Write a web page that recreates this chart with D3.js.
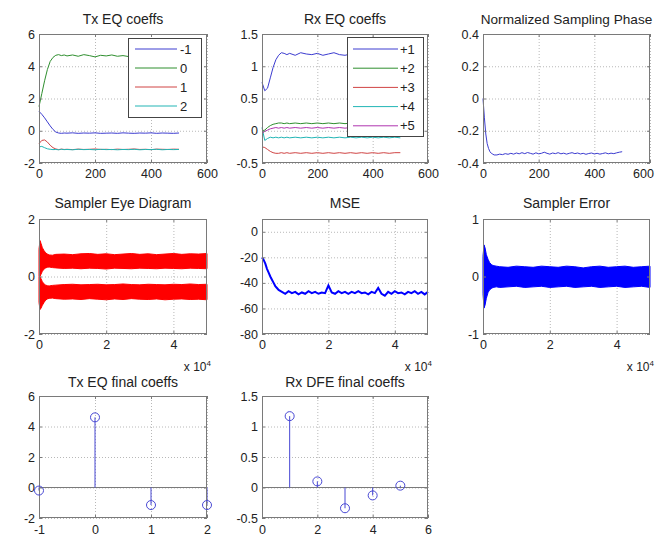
<!DOCTYPE html>
<html><head><meta charset="utf-8">
<script src="https://cdn.jsdelivr.net/npm/d3@7"></script>
<style>
body{margin:0;background:#fff;}
svg{display:block;font-family:"Liberation Sans",Arial,sans-serif;}
</style></head>
<body><svg id="c" width="655" height="537"></svg>
<script>
// ---------------- data ----------------
const txIter = [0,10,20,30,40,50,60,70,80,90,100,120,140,160,180,200,220,240,260,280,300,320,340,360,380,400,420,440,460,480,500];
const txM1 = [1.2,1.02,0.8,0.55,0.3,0.08,-0.08,-0.14,-0.16,-0.14,-0.15,-0.13,-0.16,-0.14,-0.15,-0.13,-0.16,-0.15,-0.14,-0.16,-0.13,-0.15,-0.16,-0.14,-0.15,-0.13,-0.16,-0.14,-0.15,-0.16,-0.14];
const tx0  = [1.5,2.3,3.1,3.8,4.3,4.55,4.68,4.72,4.66,4.7,4.64,4.7,4.62,4.72,4.66,4.58,4.68,4.64,4.7,4.62,4.66,4.6,4.66,4.62,4.67,4.6,4.64,4.62,4.66,4.6,4.62];
const tx1  = [-0.8,-0.6,-0.57,-0.7,-0.9,-1.05,-1.13,-1.17,-1.14,-1.16,-1.15,-1.17,-1.14,-1.16,-1.15,-1.13,-1.16,-1.15,-1.17,-1.14,-1.16,-1.15,-1.13,-1.16,-1.15,-1.17,-1.14,-1.15,-1.16,-1.14,-1.15];
const tx2  = [-1.0,-0.97,-1.05,-1.12,-1.15,-1.17,-1.16,-1.18,-1.15,-1.17,-1.16,-1.18,-1.15,-1.17,-1.16,-1.18,-1.15,-1.17,-1.16,-1.18,-1.16,-1.17,-1.15,-1.18,-1.16,-1.17,-1.15,-1.18,-1.16,-1.17,-1.16];
const txNames = ["-1","0","1","2"];

const rxIter = txIter;
const rx1 = [0.75,0.62,0.66,0.82,0.98,1.1,1.17,1.21,1.2,1.18,1.2,1.17,1.21,1.19,1.18,1.2,1.17,1.19,1.21,1.18,1.17,1.19,1.2,1.18,1.19,1.17,1.2,1.18,1.19,1.17,1.18];
const rx2 = [0.0,0.01,0.05,0.08,0.1,0.11,0.12,0.12,0.11,0.12,0.11,0.12,0.11,0.12,0.11,0.12,0.11,0.12,0.11,0.12,0.11,0.12,0.11,0.12,0.11,0.12,0.11,0.12,0.11,0.12,0.11];
const rx3 = [-0.25,-0.26,-0.29,-0.32,-0.34,-0.35,-0.35,-0.34,-0.35,-0.34,-0.35,-0.34,-0.35,-0.34,-0.35,-0.34,-0.35,-0.34,-0.35,-0.34,-0.35,-0.34,-0.35,-0.34,-0.35,-0.34,-0.35,-0.34,-0.35,-0.34,-0.34];
const rx4 = [0.05,-0.15,-0.12,-0.1,-0.11,-0.1,-0.11,-0.1,-0.11,-0.1,-0.11,-0.1,-0.11,-0.1,-0.11,-0.1,-0.11,-0.1,-0.11,-0.1,-0.11,-0.1,-0.11,-0.1,-0.11,-0.1,-0.11,-0.1,-0.11,-0.1,-0.11];
const rx5 = [-0.04,-0.01,0.01,0.03,0.04,0.05,0.04,0.05,0.04,0.05,0.04,0.05,0.04,0.05,0.04,0.05,0.04,0.05,0.04,0.05,0.04,0.05,0.04,0.05,0.04,0.05,0.04,0.05,0.04,0.05,0.04];
const rxNames = ["+1","+2","+3","+4","+5"];

const phaseIter = [0,5,10,15,20,25,30,35,40,50,60,70,80,90,100,110,120,130,140,150,160,170,180,190,200,210,220,230,240,250,260,270,280,290,300,310,320,330,340,350,360,370,380,390,400,410,420,430,440,450,460,470,480,490,500];
const phaseVal = [0,-0.12,-0.22,-0.28,-0.31,-0.33,-0.34,-0.345,-0.35,
  -0.35,-0.345,-0.348,-0.342,-0.346,-0.34,-0.345,-0.338,-0.343,-0.336,-0.342,-0.335,-0.34,-0.345,-0.337,-0.343,-0.34,-0.333,-0.34,-0.345,-0.338,-0.342,-0.336,-0.343,-0.339,-0.345,-0.34,-0.336,-0.342,-0.338,-0.344,-0.34,-0.346,-0.341,-0.338,-0.344,-0.34,-0.345,-0.341,-0.337,-0.343,-0.339,-0.342,-0.337,-0.333,-0.33];

const sampleIdx = [0,300,600,1000,1500,2000,2500,3000,4000,5000,7500,10000,12500,15000,17500,20000,22500,25000,27500,30000,32500,35000,37500,40000,42500,45000,47500,50000];
const eyeUpTop = [0.95,1.25,1.15,1.0,0.9,0.82,0.78,0.75,0.74,0.77,0.78,0.76,0.79,0.8,0.77,0.79,0.76,0.78,0.8,0.77,0.79,0.76,0.78,0.8,0.77,0.79,0.78,0.8];
const eyeUpBot = [0,0,0.08,0.18,0.26,0.3,0.32,0.33,0.31,0.3,0.28,0.29,0.27,0.29,0.28,0.26,0.29,0.28,0.27,0.29,0.28,0.27,0.29,0.28,0.27,0.29,0.28,0.27];
const eyeLoTop = [0,0,-0.08,-0.18,-0.26,-0.3,-0.32,-0.33,-0.31,-0.3,-0.28,-0.27,-0.29,-0.28,-0.27,-0.29,-0.28,-0.26,-0.28,-0.29,-0.27,-0.28,-0.29,-0.27,-0.28,-0.26,-0.28,-0.27];
const eyeLoBot = [-0.9,-1.15,-1.1,-1.0,-0.9,-0.82,-0.78,-0.76,-0.75,-0.77,-0.79,-0.78,-0.8,-0.77,-0.79,-0.81,-0.78,-0.8,-0.77,-0.79,-0.8,-0.78,-0.81,-0.79,-0.78,-0.8,-0.79,-0.81];

const errTop = [0.35,0.55,0.5,0.38,0.3,0.24,0.21,0.19,0.18,0.17,0.16,0.18,0.17,0.16,0.18,0.17,0.16,0.18,0.17,0.15,0.17,0.18,0.16,0.17,0.18,0.16,0.17,0.18];
const errBot = [-0.3,-0.55,-0.5,-0.38,-0.28,-0.23,-0.21,-0.19,-0.18,-0.19,-0.18,-0.17,-0.19,-0.18,-0.17,-0.19,-0.18,-0.17,-0.19,-0.18,-0.17,-0.19,-0.18,-0.17,-0.19,-0.18,-0.17,-0.19];

const mseIter = [0,500,1000,1500,2000,2500,3000,3500,4000,4500,5000,6000,7000,8000,9000,10000,11000,12000,13000,14000,15000,16000,17000,18000,19000,20000,21000,22000,23000,24000,25000,26000,27000,28000,29000,30000,31000,32000,33000,34000,35000,36000,37000,38000,39000,40000,41000,42000,43000,44000,45000,46000,47000,48000,49000,50000];
const mseDb = [-20,-22,-25,-29,-32,-35,-37.5,-40,-42.5,-44,-45.5,
  -47,-48.5,-46.5,-48,-47,-49,-47.5,-48.5,-46.5,-48,-47,-48.5,-47.5,-48,-42,-47.5,-48.5,-46.5,-48,-47,-48.5,-47,-48,-46.5,-48,-47.5,-49,-47,-48,-44,-48.5,-50,-47,-48.5,-46.5,-48,-47.5,-49,-47,-48,-46.5,-48.5,-47,-49,-47];

const txTaps = [-1,0,1,2];
const txFinal = [-0.2,4.6,-1.15,-1.15];
const rxTaps = [1,2,3,4,5];
const rxFinal = [1.17,0.1,-0.34,-0.13,0.03];

// ---------------- drawing ----------------
const svg = d3.select("#c");
svg.append("rect").attr("width",655).attr("height",537).attr("fill","#fff");
const TXT = "#222", BOX = "#7a7a7a";
const C = {b:"#3c3cd0", g:"#2f8f2f", r:"#d04444", c:"#22b5b5", m:"#b035b0"};

function panel(o){
  const x = d3.scaleLinear().domain(o.xd).range([o.x0,o.x1]);
  const y = d3.scaleLinear().domain(o.yd).range([o.y1,o.y0]);
  const g = svg.append("g");
  const H = o.y1-o.y0, W = o.x1-o.x0;
  // grid
  g.append("g").attr("transform",`translate(0,${o.y1})`)
    .call(d3.axisBottom(x).tickValues(o.xt).tickSize(-H).tickFormat(""))
    .call(s=>{s.select(".domain").remove();s.selectAll("line").attr("stroke","#b8b8b8").attr("stroke-dasharray","1,2");});
  g.append("g").attr("transform",`translate(${o.x0},0)`)
    .call(d3.axisLeft(y).tickValues(o.yt).tickSize(-W).tickFormat(""))
    .call(s=>{s.select(".domain").remove();s.selectAll("line").attr("stroke","#b8b8b8").attr("stroke-dasharray","1,2");});
  const data = g.append("g");
  const top = svg.append("g");
  // axes with labels
  const fmtX = o.xf || (d=>String(d));
  const ab = top.append("g").attr("transform",`translate(0,${o.y1})`)
    .call(d3.axisBottom(x).tickValues(o.xt).tickSize(-3).tickPadding(o.xpad||6).tickFormat(fmtX));
  const al = top.append("g").attr("transform",`translate(${o.x0},0)`)
    .call(d3.axisLeft(y).tickValues(o.yt).tickSize(-3).tickPadding(4).tickFormat(d=>String(d)));
  const at = top.append("g").attr("transform",`translate(0,${o.y0})`)
    .call(d3.axisTop(x).tickValues(o.xt).tickSize(-3).tickFormat(""));
  const ar = top.append("g").attr("transform",`translate(${o.x1},0)`)
    .call(d3.axisRight(y).tickValues(o.yt).tickSize(-3).tickFormat(""));
  [ab,al,at,ar].forEach(a=>{
    a.select(".domain").remove();
    a.selectAll("line").attr("stroke",BOX);
    a.selectAll("text").attr("fill",TXT).style("font-size","12.5px").style("font-family","'Liberation Sans',Arial,sans-serif");
  });
  // keep the last x label inside the window
  ab.selectAll(".tick text").each(function(){
    const bb = this.getBBox(), tr = this.parentNode.transform.baseVal.consolidate();
    const cx = tr ? tr.matrix.e : 0;
    const over = cx + bb.x + bb.width - 654;
    if(over > 0) d3.select(this).attr("x", -over);
  });
  top.append("rect").attr("x",o.x0+0.5).attr("y",o.y0+0.5).attr("width",W-1).attr("height",H-1)
    .attr("fill","none").attr("stroke",BOX);
  top.append("text").attr("x",(o.x0+o.x1)/2).attr("y",o.ty).attr("text-anchor","middle")
    .attr("fill",TXT).style("font-size",(o.tfs||14)+"px").text(o.title);
  if(o.exp){
    const t = top.append("text").attr("x",o.x1+4).attr("y",o.y1+37).attr("text-anchor","end")
      .attr("fill",TXT).style("font-size","12px");
    t.append("tspan").text("x 10");
    t.append("tspan").attr("dy",-5).style("font-size","8px").text("4");
  }
  return {x,y,data,top};
}

function lines(p, xs, series, colors){
  const ln = d3.line().x(d=>p.x(d[0])).y(d=>p.y(d[1]));
  series.forEach((s,i)=>{
    p.data.append("path").datum(d3.zip(xs,s)).attr("d",ln)
      .attr("fill","none").attr("stroke",colors[i]).attr("stroke-width",1);
  });
}
function legend(p, names, colors, bx, by, bw, bh, y0, dy, lx0, lx1, tx){
  const lg = p.top.append("g");
  lg.append("rect").attr("x",bx+0.5).attr("y",by+0.5).attr("width",bw).attr("height",bh)
    .attr("fill","#fff").attr("stroke","#444");
  names.forEach((n,i)=>{
    const yy = y0+i*dy;
    lg.append("line").attr("x1",lx0).attr("x2",lx1).attr("y1",yy).attr("y2",yy).attr("stroke",colors[i]);
    lg.append("text").attr("x",tx).attr("y",yy+4.5).attr("fill",TXT).style("font-size","13px").text(n);
  });
}
function stems(p, xs, vs){
  const col = "#4848d4";
  p.data.append("line").attr("x1",p.x.range()[0]).attr("x2",p.x.range()[1])
    .attr("y1",p.y(0)).attr("y2",p.y(0)).attr("stroke","#7a7a7a");
  const pts = d3.zip(xs,vs);
  p.data.selectAll(".stem").data(pts).join("line")
    .attr("x1",d=>p.x(d[0])).attr("x2",d=>p.x(d[0])).attr("y1",p.y(0)).attr("y2",d=>p.y(d[1]))
    .attr("stroke",col);
  p.top.selectAll(".mk").data(pts).join("circle")
    .attr("cx",d=>p.x(d[0])).attr("cy",d=>p.y(d[1])).attr("r",4.5)
    .attr("fill","none").attr("stroke",col);
}
function band(p, xs, hi, lo, color){
  const ar = d3.area().x(d=>p.x(d[0])).y0(d=>p.y(d[2])).y1(d=>p.y(d[1]));
  p.data.append("path").datum(d3.zip(xs,hi,lo)).attr("d",ar)
    .attr("fill",color).attr("stroke",color).attr("stroke-width",1);
}

const xe = d=>String(d/1e4);

// Row 1
const p1 = panel({x0:39,x1:207,y0:34,y1:163,xd:[0,600],yd:[-2,6],xt:[0,200,400,600],yt:[-2,0,2,4,6],title:"Tx EQ coeffs",ty:24});
lines(p1, txIter, [txM1,tx0,tx1,tx2], [C.b,C.g,C.r,C.c]);
legend(p1, txNames, [C.b,C.g,C.r,C.c], 128,38,73,79, 49,19, 135,177,180);

const p2 = panel({x0:262,x1:428,y0:34,y1:163,xd:[0,600],yd:[-0.5,1.5],xt:[0,200,400,600],yt:[-0.5,0,0.5,1,1.5],title:"Rx EQ coeffs",ty:24});
lines(p2, rxIter, [rx1,rx2,rx3,rx4,rx5], [C.b,C.g,C.r,C.c,C.m]);
legend(p2, rxNames, [C.b,C.g,C.r,C.c,C.m], 347,37,76,99, 49,19.2, 353,398,400);

const p3 = panel({x0:483,x1:650,y0:34,y1:163,xd:[0,600],yd:[-0.4,0.4],xt:[0,200,400,600],yt:[-0.4,-0.2,0,0.2,0.4],title:"Normalized Sampling Phase",ty:24,tfs:13.6});
lines(p3, phaseIter, [phaseVal], [C.b]);

// Row 2
const p4 = panel({x0:39,x1:207,y0:219,y1:334,xd:[0,50000],yd:[-2,2],xt:[0,20000,40000],yt:[-2,0,2],xf:xe,title:"Sampler Eye Diagram",ty:208,exp:true});
band(p4, sampleIdx, eyeUpTop, eyeUpBot, "#ff0000");
band(p4, sampleIdx, eyeLoTop, eyeLoBot, "#ff0000");

const p5 = panel({x0:262,x1:428,y0:219,y1:334,xd:[0,50000],yd:[-80,10],xt:[0,20000,40000],yt:[-80,-60,-40,-20,0],xf:xe,title:"MSE",ty:208,exp:true});
p5.data.append("path").datum(d3.zip(mseIter,mseDb))
  .attr("d",d3.line().x(d=>p5.x(d[0])).y(d=>p5.y(d[1])))
  .attr("fill","none").attr("stroke","#0000ff").attr("stroke-width",2);

const p6 = panel({x0:483,x1:650,y0:219,y1:334,xd:[0,50000],yd:[-1,1],xt:[0,20000,40000],yt:[-1,0,1],xf:xe,title:"Sampler Error",ty:208,exp:true});
band(p6, sampleIdx, errTop, errBot, "#0000ff");

// Row 3
const p7 = panel({x0:39,x1:207,y0:396,y1:518,xd:[-1,2],yd:[-2,6],xt:[-1,0,1,2],yt:[-2,0,2,4,6],title:"Tx EQ final coeffs",ty:387,xpad:7});
stems(p7, txTaps, txFinal);

const p8 = panel({x0:262,x1:428,y0:396,y1:518,xd:[0,6],yd:[-0.5,1.5],xt:[0,2,4,6],yt:[-0.5,0,0.5,1,1.5],title:"Rx DFE final coeffs",ty:387,xpad:7});
stems(p8, rxTaps, rxFinal);
</script></body></html>
